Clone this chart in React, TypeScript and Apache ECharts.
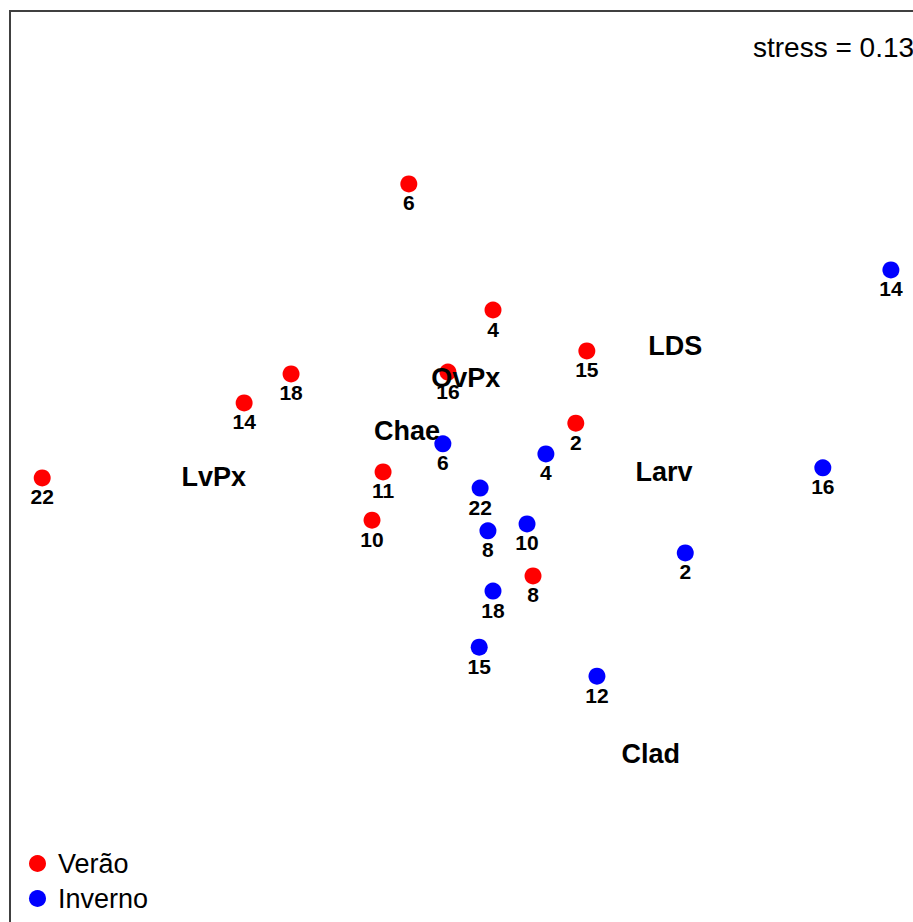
import React, { useEffect, useRef } from "react";
import * as echarts from "echarts";

// NMDS site scores (sample numbers) for each season
const veraoLabels = ["6", "4", "15", "18", "16", "14", "2", "22", "11", "10", "8"];
const veraoX = [-0.133, 0.05, 0.254, -0.389, -0.048, -0.491, 0.23, -0.93, -0.189, -0.213, 0.137];
const veraoY = [0.624, 0.35, 0.261, 0.211, 0.215, 0.148, 0.104, -0.015, -0.002, -0.107, -0.228];

const invernoLabels = ["14", "6", "4", "16", "22", "8", "10", "2", "18", "15", "12"];
const invernoX = [0.915, -0.059, 0.165, 0.767, 0.022, 0.039, 0.124, 0.468, 0.05, 0.02, 0.276];
const invernoY = [0.437, 0.059, 0.037, 0.007, -0.037, -0.13, -0.115, -0.178, -0.261, -0.383, -0.446];

// Species scores
const speciesLabels = ["LDS", "OvPx", "Chae", "LvPx", "Larv", "Clad"];
const speciesX = [0.446, -0.009, -0.137, -0.557, 0.422, 0.393];
const speciesY = [0.272, 0.202, 0.087, -0.013, -0.002, -0.615];

const seasonNames = ["Verão", "Inverno"];
const stressText = "stress = 0.13";

const FONT = "'Liberation Sans', Arial, Helvetica, sans-serif";

function build(labels: string[], xs: number[], ys: number[]) {
  return labels.map((l, i) => ({ name: l, value: [xs[i], ys[i]] }));
}

export default function App() {
  const ref = useRef<HTMLDivElement>(null);
  useEffect(() => {
    if (!ref.current) return;
    const chart = echarts.init(ref.current, null, { renderer: "svg" });
    const numLabel = {
      show: true,
      position: "inside",
      offset: [0, 19],
      formatter: (p: any) => p.name,
      color: "#000",
      fontWeight: "bold",
      fontSize: 21,
      fontFamily: FONT,
    };
    chart.setOption({
      animation: false,
      backgroundColor: "#fff",
      textStyle: { fontFamily: FONT },
      grid: {
        show: true,
        left: 10,
        top: 11,
        width: 920,
        height: 920,
        borderColor: "#404040",
        borderWidth: 2,
        backgroundColor: "transparent",
      },
      xAxis: { type: "value", min: -1, max: 1, show: false },
      yAxis: { type: "value", min: -1, max: 1, show: false },
      legend: {
        orient: "vertical",
        left: 24,
        top: 845,
        itemWidth: 17,
        itemHeight: 17,
        itemGap: 8,
        icon: "circle",
        data: seasonNames,
        textStyle: {
          fontSize: 27,
          lineHeight: 27,
          color: "#000",
          fontFamily: FONT,
          padding: [0, 0, 0, 7],
        },
      },
      graphic: [
        {
          type: "text",
          left: 753,
          top: 33,
          style: { text: stressText, fontSize: 28, fill: "#000", fontFamily: FONT },
        },
      ],
      series: [
        {
          name: seasonNames[0],
          type: "scatter",
          symbol: "circle",
          symbolSize: 17,
          itemStyle: { color: "#ff0000", opacity: 1 },
          data: build(veraoLabels, veraoX, veraoY),
          label: numLabel,
          z: 2,
        },
        {
          name: seasonNames[1],
          type: "scatter",
          symbol: "circle",
          symbolSize: 17,
          itemStyle: { color: "#0000ff", opacity: 1 },
          data: build(invernoLabels, invernoX, invernoY),
          label: numLabel,
          z: 2,
        },
        {
          name: "species",
          type: "scatter",
          symbolSize: 0,
          itemStyle: { color: "transparent", opacity: 1 },
          data: build(speciesLabels, speciesX, speciesY),
          label: {
            show: true,
            position: "inside",
            formatter: (p: any) => p.name,
            color: "#000",
            fontWeight: "bold",
            fontSize: 27,
            fontFamily: FONT,
          },
          z: 5,
        },
      ],
    });
    return () => chart.dispose();
  }, []);
  return (
    <div
      style={{ position: "fixed", left: 0, top: 0, width: 913, height: 922, overflow: "hidden", background: "#fff" }}
    >
      <div ref={ref} style={{ width: 940, height: 940 }} />
    </div>
  );
}
